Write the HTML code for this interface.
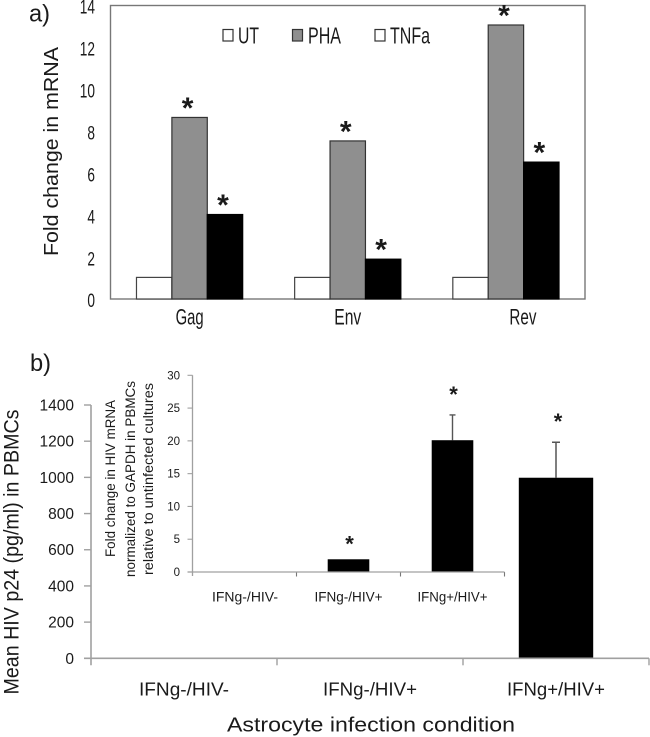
<!DOCTYPE html>
<html lang="en">
<head>
<meta charset="utf-8">
<title>Fold change in mRNA and HIV p24 charts</title>
<style>
html,body{margin:0;padding:0;background:#fff;}
#figure{display:block;width:650px;height:737px;filter:blur(0.35px);}
text{font-family:"Liberation Sans",sans-serif;fill:#1a1a1a;}
</style>
</head>
<body>
<svg id="figure" xmlns="http://www.w3.org/2000/svg" width="650" height="737" viewBox="0 0 650 737">
  <rect width="650" height="737" fill="#fff"/>
  <text x="29" y="21.5" font-size="24" textLength="21" lengthAdjust="spacingAndGlyphs">a)</text>
  <text x="30" y="371" font-size="24" textLength="21" lengthAdjust="spacingAndGlyphs">b)</text>

  <rect x="110.5" y="5.5" width="474.5" height="293.5" fill="none" stroke="#777" stroke-width="1.4"/>
  <g id="panelA"></g>
  <text transform="translate(58,151.5) rotate(-90)" text-anchor="middle" font-size="20" textLength="209" lengthAdjust="spacingAndGlyphs">Fold change in mRNA</text>

  <g>
    <rect x="223" y="29.5" width="10" height="11.5" fill="#fff" stroke="#333" stroke-width="1.2"/>
    <text x="238" y="43.3" font-size="23" textLength="21" lengthAdjust="spacingAndGlyphs">UT</text>
    <rect x="292.5" y="29.5" width="10" height="11.5" fill="#8f8f8f" stroke="#333" stroke-width="1.2"/>
    <text x="308" y="43.3" font-size="23" textLength="33" lengthAdjust="spacingAndGlyphs">PHA</text>
    <rect x="375" y="29.5" width="10" height="11.5" fill="#fff" stroke="#333" stroke-width="1.2"/>
    <text x="390" y="43.3" font-size="23" textLength="40" lengthAdjust="spacingAndGlyphs">TNFa</text>
  </g>

  <g id="panelB"></g>
  <text transform="translate(18.5,552) rotate(-90)" text-anchor="middle" font-size="21.5" textLength="285" lengthAdjust="spacingAndGlyphs">Mean HIV p24 (pg/ml) in PBMCs</text>
  <text x="371" y="731.5" text-anchor="middle" font-size="20" textLength="288" lengthAdjust="spacingAndGlyphs">Astrocyte infection condition</text>

  <g id="inset"></g>
  <g>
    <text transform="translate(115,478.5) rotate(-90)" text-anchor="middle" font-size="13.5" textLength="157" lengthAdjust="spacingAndGlyphs">Fold change in HIV mRNA</text>
    <text transform="translate(135,479) rotate(-90)" text-anchor="middle" font-size="13.5" textLength="196" lengthAdjust="spacingAndGlyphs">normalized to GAPDH in PBMCs</text>
    <text transform="translate(153,479) rotate(-90)" text-anchor="middle" font-size="13.5" textLength="192" lengthAdjust="spacingAndGlyphs">relative to untinfected cultures</text>
  </g>
</svg>
<script>
// ---- Panel a data ----
const aCategories = ['Gag', 'Env', 'Rev'];
const aUT = [1.03, 1.03, 1.03];
const aPHA = [8.66, 7.54, 13.07];
const aTNFa = [4.03, 1.9, 6.53];
const aTicks = [0, 2, 4, 6, 8, 10, 12, 14];

// ---- Panel b main data ----
const bCategories = ['IFNg-/HIV-', 'IFNg-/HIV+', 'IFNg+/HIV+'];
const bValues = [0, 0, 998];
const bErrors = [0, 0, 196];
const bTicks = [0, 200, 400, 600, 800, 1000, 1200, 1400];

// ---- Inset data ----
const insetCategories = ['IFNg-/HIV-', 'IFNg-/HIV+', 'IFNg+/HIV+'];
const insetValues = [0, 1.94, 20.1];
const insetErrors = [0, 0, 3.85];
const insetTicks = [0, 5, 10, 15, 20, 25, 30];

const NS = 'http://www.w3.org/2000/svg';
function mk(parent, tag, attrs, txt) {
  const el = document.createElementNS(NS, tag);
  for (const k in attrs) el.setAttribute(k, attrs[k]);
  if (txt !== undefined) el.textContent = txt;
  parent.appendChild(el);
  return el;
}
function star(parent, cx, cy, size, name) {
  const el = mk(parent, 'text', {x: cx, y: cy + size * 0.5, 'text-anchor': 'middle', 'font-size': size, 'font-weight': 'bold', fill: '#111'}, '*');
  
  
}

// ---- Panel a ----
(function () {
  const g = document.getElementById('panelA');
  const y0 = 299, pxPerUnit = 293.5 / 14, left = 110.5, band = 474.5 / 3, bw = 35.4;
  const yA = v => y0 - v * pxPerUnit;
  const xA = i => left + band * (i + 0.5);

  aTicks.forEach(t => {
    const el = mk(g, 'text', {x: 95, y: yA(t) + 8.2, 'text-anchor': 'end', 'font-size': 19.5, textLength: String(t).length * 7.6, lengthAdjust: 'spacingAndGlyphs'}, t);
    
    
  });

  const series = [
    {key: 'ut', vals: aUT, fill: '#fff', stroke: '#444'},
    {key: 'pha', vals: aPHA, fill: '#8f8f8f', stroke: '#333'},
    {key: 'tnfa', vals: aTNFa, fill: '#000', stroke: '#000'}
  ];
  aCategories.forEach((c, i) => {
    series.forEach((s, j) => {
      const v = s.vals[i];
      const bx = xA(i) + (j - 1.5) * bw;
      const r = mk(g, 'rect', {x: bx, y: yA(v), width: bw, height: y0 - yA(v), fill: s.fill, stroke: s.stroke, 'stroke-width': 1.2});
      
      
      if (j > 0) star(g, bx + bw / 2 - 2, yA(v) - 14.5, 30, 'significance-star-' + c.toLowerCase() + '-' + s.key);
    });
    // The Rev label sits to the right of its group in the source figure.
    const labelShift = c === 'Rev' ? 17 : 0;
    const l = mk(g, 'text', {x: xA(i) + labelShift, y: 324.3, 'text-anchor': 'middle', 'font-size': 22, textLength: c === 'Gag' ? 28 : 27, lengthAdjust: 'spacingAndGlyphs'}, c);
    
    
  });
})();

// ---- Panel b main chart ----
(function () {
  const g = document.getElementById('panelB');
  const y0 = 658.3, pxPerUnit = 253.3 / 1400, left = 91, band = 186, bw = 74.4;
  const yB = v => y0 - v * pxPerUnit;
  const AX = '#a0a0a0';

  const ya = mk(g, 'line', {x1: left, x2: left, y1: yB(1400), y2: y0 + 7, stroke: AX, 'stroke-width': 1.6});
  
  

  bTicks.forEach(t => {
    const m = mk(g, 'line', {x1: left - 7, x2: left, y1: yB(t), y2: yB(t), stroke: AX, 'stroke-width': 1.4});
    
    
    const l = mk(g, 'text', {x: 74, y: yB(t) + 5.5, 'text-anchor': 'end', 'font-size': 15.5}, t);
    
    
  });

  bCategories.forEach((c, i) => {
    const t = mk(g, 'line', {x1: left + band * (i + 1), x2: left + band * (i + 1), y1: y0, y2: y0 + 7, stroke: AX, 'stroke-width': 1.4});
    
    
    const cx = left + band * (i + 0.5);
    const v = bValues[i], e = bErrors[i];
    if (v > 0) {
      const er = mk(g, 'path', {d: 'M' + cx + ' ' + yB(v) + 'V' + yB(v + e) + 'M' + (cx - 4) + ' ' + yB(v + e) + 'H' + (cx + 4), fill: 'none', stroke: '#555', 'stroke-width': 1.5});
      
      
      const r = mk(g, 'rect', {x: cx - bw / 2, y: yB(v), width: bw, height: y0 - yB(v), fill: '#000'});
      
      
      star(g, cx + 2, yB(v + e) - 24.5, 22, 'significance-star-' + i);
    }
    const l = mk(g, 'text', {x: cx, y: 695.5, 'text-anchor': 'middle', 'font-size': 18, textLength: c.indexOf('+/HIV+') > 0 ? 98 : (i === 1 ? 94 : 90), lengthAdjust: 'spacingAndGlyphs'}, c);
    
    
  });

  const xa = mk(g, 'line', {x1: left - 7, x2: 649, y1: y0, y2: y0, stroke: AX, 'stroke-width': 1.6});
  
  
})();

// ---- Inset ----
(function () {
  const g = document.getElementById('inset');
  const y0 = 572, pxPerUnit = 196.7 / 30, left = 192.5, band = 104, bw = 41.6;
  const yI = v => y0 - v * pxPerUnit;
  const AX = '#a0a0a0';

  const ya = mk(g, 'line', {x1: left, x2: left, y1: yI(30), y2: y0 + 4, stroke: AX, 'stroke-width': 1.3});
  
  

  insetTicks.forEach(t => {
    const m = mk(g, 'line', {x1: left - 5, x2: left, y1: yI(t), y2: yI(t), stroke: AX, 'stroke-width': 1.1});
    
    
    const l = mk(g, 'text', {x: 180, y: yI(t) + 4, 'text-anchor': 'end', 'font-size': 11.5}, t);
    
    
  });

  insetCategories.forEach((c, i) => {
    const t = mk(g, 'line', {x1: left + band * (i + 1), x2: left + band * (i + 1), y1: y0, y2: y0 + 4.5, stroke: '#777', 'stroke-width': 1.1});
    
    
    const cx = left + band * (i + 0.5);
    const v = insetValues[i], e = insetErrors[i];
    if (v > 0) {
      if (e > 0) {
        const er = mk(g, 'path', {d: 'M' + cx + ' ' + yI(v) + 'V' + yI(v + e) + 'M' + (cx - 3) + ' ' + yI(v + e) + 'H' + (cx + 3), fill: 'none', stroke: '#555', 'stroke-width': 1.4});
        
        
      }
      const r = mk(g, 'rect', {x: cx - bw / 2, y: yI(v), width: bw, height: y0 - yI(v), fill: '#000'});
      
      
      star(g, cx + 1, yI(v + e) - (e > 0 ? 24 : 19), 22, 'inset-significance-star-' + i);
    }
    const l = mk(g, 'text', {x: cx + (i === 0 ? 0.5 : 0), y: 601.5, 'text-anchor': 'middle', 'font-size': 13.5, textLength: i === 2 ? 70 : (i === 1 ? 68 : 66), lengthAdjust: 'spacingAndGlyphs'}, c);
    
    
  });

  const xa = mk(g, 'line', {x1: left - 5, x2: left + band * insetCategories.length, y1: y0, y2: y0, stroke: AX, 'stroke-width': 1.3});
  
  
})();
</script>
</body>
</html>
